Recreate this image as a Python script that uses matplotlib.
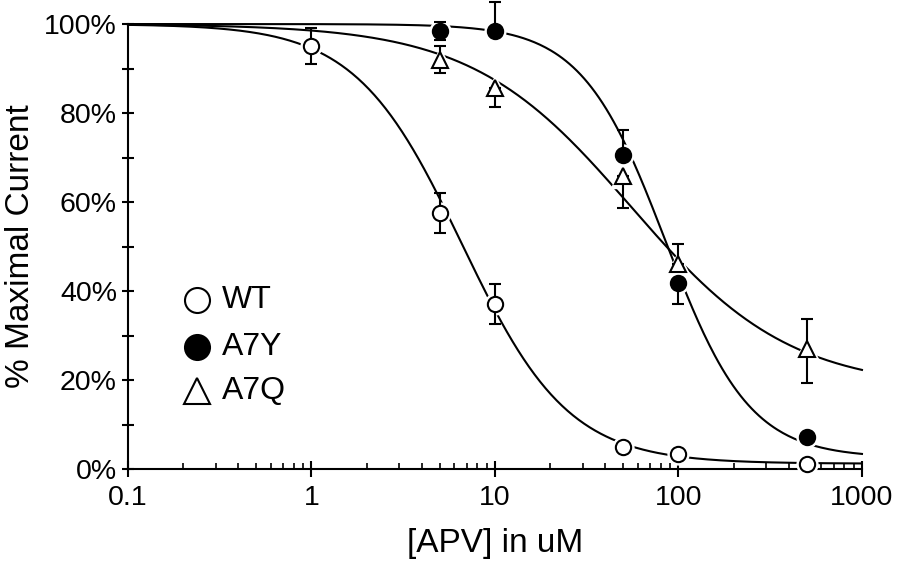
import numpy as np
import matplotlib
matplotlib.use("Agg")
import matplotlib.pyplot as plt
from matplotlib.ticker import FixedLocator, NullFormatter, FuncFormatter

plt.rcParams['font.family'] = ['Liberation Sans', 'DejaVu Sans']

# concentrations (uM)
conc = [1, 5, 10, 50, 100, 500]
conc_y = [5, 10, 50, 100, 500]
conc_q = [5, 10, 50, 100, 500]

# measured responses (% maximal current)
wt = [95.0, 57.5, 37.0, 5.0, 3.4, 1.1]
wt_err = [4.0, 4.5, 4.5, 0.0, 0.0, 0.0]

a7y = [98.4, 98.4, 70.6, 41.8, 7.2]
a7y_err_lo = [2.0, 0.0, 0.0, 4.8, 0.0]
a7y_err_hi = [2.0, 6.6, 5.6, 0.0, 0.0]

a7q = [92.0, 85.6, 65.8, 46.0, 27.0]
a7q_err_lo = [3.0, 4.3, 7.2, 0.0, 7.6]
a7q_err_hi = [3.0, 0.0, 0.0, 4.5, 6.8]

# Hill fit parameters: bottom, top, IC50, slope
fit_wt = (1.2, 100, 6.6, 1.5)
fit_a7y = (2.5, 100, 85, 1.9)
fit_a7q = (18, 100, 55, 1.0)


def hill(x, p):
    bottom, top, ic50, n = p
    return bottom + (top - bottom) / (1 + (x / ic50) ** n)


fig = plt.figure(figsize=(9.04, 5.75), dpi=100)
ax = fig.add_axes([0.1416, 0.1843, 0.8119, 0.7739])

xs = np.logspace(-1, 3, 400)
for p in (fit_wt, fit_a7y, fit_a7q):
    ax.plot(xs, hill(xs, p), color='black', lw=1.5, zorder=2, clip_on=False)

ms = 11
# white halo around markers
ax.plot(conc, wt, 'o', ms=ms + 4, mfc='white', mec='white', zorder=3, clip_on=False)
ax.plot(conc_y, a7y, 'o', ms=ms + 4, mfc='white', mec='white', zorder=3, clip_on=False)
ax.plot(conc_q, a7q, '^', ms=ms + 6, mfc='white', mec='white', zorder=3, clip_on=False)

ax.errorbar(conc, wt, yerr=wt_err, fmt='none', ecolor='black', elinewidth=1.5,
            capsize=4, capthick=1.5, zorder=4, clip_on=False)
ax.errorbar(conc_y, a7y, yerr=[a7y_err_lo, a7y_err_hi], fmt='none', ecolor='black',
            elinewidth=1.5, capsize=4, capthick=1.5, zorder=4, clip_on=False)
ax.errorbar(conc_q, a7q, yerr=[a7q_err_lo, a7q_err_hi], fmt='none', ecolor='black',
            elinewidth=1.5, capsize=4, capthick=1.5, zorder=4, clip_on=False)

ax.plot(conc, wt, 'o', ms=ms, mfc='white', mec='black', mew=1.5, zorder=5, clip_on=False)
ax.plot(conc_y, a7y, 'o', ms=ms, mfc='black', mec='black', mew=1.5, zorder=5, clip_on=False)
ax.plot(conc_q, a7q, '^', ms=ms + 1, mfc='white', mec='black', mew=1.5, zorder=5, clip_on=False)

ax.set_xscale('log')
ax.set_xlim(0.1, 1000)
ax.set_ylim(0, 100)

for s in ['top', 'right']:
    ax.spines[s].set_visible(False)
for s in ['left', 'bottom']:
    ax.spines[s].set_linewidth(1.5)

ax.xaxis.set_major_locator(FixedLocator([0.1, 1, 10, 100, 1000]))
ax.xaxis.set_major_formatter(FuncFormatter(lambda v, pos: f"{v:g}"))
minor = [m * 10.0 ** e for e in range(-1, 3) for m in range(2, 10)]
ax.xaxis.set_minor_locator(FixedLocator(minor))
ax.xaxis.set_minor_formatter(NullFormatter())
ax.tick_params(axis='x', which='major', direction='inout', length=11, width=1.5,
               labelsize=20.5, pad=6)
ax.tick_params(axis='x', which='minor', direction='in', length=4.5, width=1.2)

ax.yaxis.set_major_locator(FixedLocator([0, 20, 40, 60, 80, 100]))
ax.yaxis.set_minor_locator(FixedLocator([10, 30, 50, 70, 90]))
ax.yaxis.set_major_formatter(FuncFormatter(lambda v, pos: f"{v:.0f}%"))
ax.tick_params(axis='y', which='both', direction='inout', length=8, width=1.5,
               labelsize=20.5, pad=4)

ax.set_xlabel("[APV] in uM", fontsize=24, labelpad=12)
ax.set_ylabel("% Maximal Current", fontsize=24, labelpad=6)

# legend drawn as text and markers in data space
leg_x = 0.238
leg_y = [38, 27.5, 17.5]
leg_lbl = ["WT", "A7Y", "A7Q"]
ax.plot([leg_x], [leg_y[0]], 'o', ms=18, mfc='white', mec='black', mew=1.5)
ax.plot([leg_x], [leg_y[1]], 'o', ms=18, mfc='black', mec='black', mew=1.5)
ax.plot([leg_x], [leg_y[2]], '^', ms=19, mfc='white', mec='black', mew=1.5)
for yy, t in zip(leg_y, leg_lbl):
    ax.text(leg_x * 1.37, yy, t, fontsize=23, va='center', ha='left')

fig.savefig("out.png", dpi=100)
